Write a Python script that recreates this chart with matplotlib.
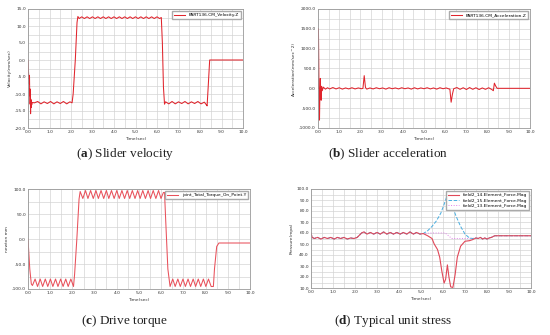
import numpy as np
import matplotlib
matplotlib.use('Agg')
import matplotlib.pyplot as plt
from matplotlib.ticker import MultipleLocator, FormatStrFormatter

# (a) slider velocity
t_vel = [0.0, 0.02, 0.04, 0.05, 0.06, 0.07, 0.08, 0.09, 0.10, 0.11, 0.12, 0.13, 0.14, 0.15, 0.17, 0.2,
         0.3, 0.45, 0.6, 0.75, 0.9, 1.05, 1.2, 1.35, 1.5, 1.65, 1.8, 1.95, 2.05,
         2.1, 2.2, 2.28, 2.32, 2.38,
         2.5, 2.62, 2.75, 2.87, 3.0, 3.12, 3.25, 3.37, 3.5, 3.62, 3.75, 3.87, 4.0, 4.12, 4.25, 4.37,
         4.5, 4.62, 4.75, 4.87, 5.0, 5.12, 5.25, 5.37, 5.5, 5.62, 5.75, 5.87, 6.0, 6.12, 6.2,
         6.25, 6.3, 6.35, 6.4,
         6.55, 6.7, 6.85, 7.0, 7.15, 7.3, 7.45, 7.6, 7.75, 7.9, 8.05, 8.2, 8.3, 8.33,
         8.38, 8.45, 10.0]
v_vel = [0.0, -3.0, -5.5, -4.5, -7.0, -5.0, -10.5, -8.5, -13.0, -10.5, -15.8, -11.5, -14.0, -12.0, -13.2, -12.5,
         -12.6, -12.2, -12.9, -12.3, -12.8, -12.2, -12.9, -12.3, -12.8, -12.2, -12.9, -12.3, -12.6,
         -10.0, 0.0, 11.0, 12.8, 12.2,
         12.7, 12.2, 12.7, 12.2, 12.7, 12.2, 12.7, 12.2, 12.7, 12.2, 12.7, 12.2, 12.7, 12.2, 12.7, 12.2,
         12.7, 12.2, 12.7, 12.2, 12.7, 12.2, 12.7, 12.2, 12.7, 12.2, 12.7, 12.2, 12.7, 12.2, 12.5,
         5.0, -8.0, -13.0, -12.3,
         -12.9, -12.2, -12.9, -12.3, -12.8, -12.2, -12.9, -12.3, -12.8, -12.2, -12.9, -12.4, -13.2, -13.5,
         -8.0, 0.0, 0.0]

# (b) slider acceleration
t_acc = [0.0, 0.01, 0.02, 0.03, 0.05, 0.07, 0.09, 0.11, 0.13, 0.15, 0.17, 0.2, 0.25,
         0.35, 0.45, 0.55, 0.7, 0.85, 1.0, 1.15, 1.3, 1.45, 1.6, 1.75, 1.9, 2.05,
         2.12, 2.18, 2.24, 2.3,
         2.45, 2.6, 2.75, 2.9, 3.05, 3.2, 3.35, 3.5, 3.65, 3.8, 3.95, 4.1, 4.25, 4.4, 4.55,
         4.7, 4.85, 5.0, 5.15, 5.3, 5.45, 5.6, 5.75, 5.9, 6.05, 6.15,
         6.22, 6.28, 6.34, 6.4,
         6.55, 6.7, 6.85, 7.0, 7.15, 7.3, 7.45, 7.6, 7.75, 7.9, 8.05, 8.2,
         8.27, 8.32, 8.38, 8.45, 10.0]
a_acc = [0, 600, 1500, 1000, -200, -800, -100, 250, -150, -300, 50, -60, 30,
         -20, 15, -15, 20, -15, 15, -20, 10, -15, 15, -15, 10, -10,
         0, 320, 20, -20,
         10, -15, 15, -10, 10, -20, 15, -10, 10, -15, 15, -10, 10, -20, 15,
         -15, 10, -10, 15, -15, 10, -20, 15, -10, 10, -10,
         -20, -350, -150, -10,
         20, -25, 15, -30, 20, -25, 15, -30, 10, -25, 15, -30,
         -60, 130, 60, 0, 0]

# (c) drive torque
t_trq = [0.0, 0.08, 0.15, 0.2,
         0.32, 0.43, 0.55, 0.66, 0.78, 0.89, 1.01, 1.12, 1.24, 1.35, 1.47, 1.58, 1.7, 1.81, 1.93, 2.05,
         2.1, 2.2, 2.3, 2.35,
         2.47, 2.59, 2.7, 2.82, 2.94, 3.06, 3.17, 3.29, 3.41, 3.53, 3.64, 3.76, 3.88, 4.0, 4.11, 4.23,
         4.35, 4.47, 4.58, 4.7, 4.82, 4.94, 5.05, 5.17, 5.29, 5.41, 5.52, 5.64, 5.76, 5.88, 5.99, 6.1,
         6.15, 6.2, 6.3, 6.4,
         6.52, 6.63, 6.75, 6.86, 6.98, 7.09, 7.21, 7.32, 7.44, 7.55, 7.67, 7.78, 7.9, 8.01, 8.13, 8.25,
         8.35, 8.4, 8.5, 8.6, 10.0]
m_trq = [0, -60, -90, -93,
         -80, -95, -80, -95, -80, -95, -80, -95, -80, -95, -80, -95, -80, -95, -80, -95,
         -70, 0, 80, 95,
         81, 97, 81, 97, 81, 97, 81, 97, 81, 97, 81, 97, 81, 97, 81, 97,
         81, 97, 81, 97, 81, 97, 81, 97, 81, 97, 81, 97, 81, 97, 81, 93,
         93, 40, -60, -95,
         -80, -95, -80, -95, -80, -95, -80, -95, -80, -95, -80, -95, -80, -95, -80, -95,
         -95, -60, -15, -8, -8]

# (d) typical unit stress
t_common = [0.0, 0.05, 0.15, 0.3, 0.45, 0.6, 0.75, 0.9, 1.05, 1.2, 1.35, 1.5, 1.65, 1.8, 1.95, 2.1,
            2.3, 2.4, 2.55, 2.7, 2.85, 3.0, 3.15, 3.3, 3.45, 3.6, 3.75, 3.9, 4.05, 4.2, 4.35,
            4.5, 4.65, 4.8, 4.95, 5.1]
f_common = [60, 56, 55, 56, 54.5, 56, 55, 56, 54.5, 56, 55, 56, 54.5, 55.5, 55, 56,
            60, 61, 59, 60.5, 59, 60.5, 59, 61, 59, 60.5, 59, 60.5, 59, 60.5, 59,
            61, 59, 60.5, 59, 59.5]
t_tail = [7.5, 7.6, 7.7, 7.8, 7.9, 8.0, 8.1, 8.2, 8.35, 10.0]
f_tail = [55.5, 55, 56, 54.5, 55.5, 54.5, 55.5, 56, 57.5, 57.5]

t_e14 = [5.3, 5.5, 5.6, 5.75, 5.85, 5.95, 6.05, 6.12, 6.2, 6.27, 6.35, 6.45, 6.55, 6.65, 6.8,
         7.0, 7.2, 7.35]
f_e14 = [57.5, 55, 50, 45, 38, 25, 14.5, 18, 31, 20, 11, 10.5, 22, 38, 48,
         52.5, 53, 54]
t_e15 = [5.3, 5.5, 5.7, 5.9, 6.05, 6.2, 6.3, 6.45, 6.6, 6.8, 7.0, 7.2, 7.35]
f_e15 = [62, 66, 71, 78, 86, 95, 92, 83, 75, 66, 59, 55.5, 55]
t_e13 = [5.5, 6.1, 6.4, 7.2, 7.35]
f_e13 = [60, 60, 55, 55, 55]

labels_d = ['field2_14.Element_Force.Mag', 'field2_15.Element_Force.Mag',
            'field2_13.Element_Force.Mag']

W, H = 550, 335
fig = plt.figure(figsize=(W / 100, H / 100), dpi=100)
plt.rcParams['mathtext.fontset'] = 'custom'
plt.rcParams['mathtext.rm'] = 'Liberation Serif'
plt.rcParams['mathtext.bf'] = 'Liberation Serif:bold'

fs = 3.2


def make_ax(left, top, right, bottom):
    ax = fig.add_axes([left / W, 1 - bottom / H, (right - left) / W, (bottom - top) / H])
    ax.set_xlim(0, 10)
    ax.xaxis.set_major_locator(MultipleLocator(1))
    ax.xaxis.set_minor_locator(MultipleLocator(0.5))
    ax.xaxis.set_major_formatter(FormatStrFormatter('%.1f'))
    ax.yaxis.set_major_formatter(FormatStrFormatter('%.1f'))
    ax.grid(True, which='both', color='#d4d4d4', lw=0.5)
    ax.set_axisbelow(True)
    ax.tick_params(which='both', length=0, labelsize=fs, colors='#333333', pad=1.5)
    for s in ax.spines.values():
        s.set_color('#999999')
        s.set_linewidth(0.6)
    ax.set_xlabel('Time(sec)', fontsize=fs, labelpad=2, color='#333333')
    return ax


def caption(x, y, letter, text):
    fig.text(x / W, 1 - y / H, r'($\mathbf{%s}$) %s' % (letter, text), ha='center', va='center',
             fontsize=9.5, family='Liberation Serif', color='#222222')


leg_kw = dict(fontsize=fs, frameon=True, fancybox=False, edgecolor='#aaaaaa', framealpha=1,
              handlelength=2.5, borderpad=0.4, labelspacing=0.3)

# (a)
ax = make_ax(28, 9, 243, 128)
ax.set_ylim(-20, 15)
ax.yaxis.set_major_locator(MultipleLocator(5))
ax.yaxis.set_minor_locator(MultipleLocator(2.5))
ax.plot(t_vel, v_vel, color='#e0242c', lw=0.75, label='PART136.CM_Velocity.Z')
ax.set_ylabel('Velocity(mm/sec)', fontsize=fs, labelpad=2, color='#333333')
ax.legend(loc='upper right', **leg_kw)
caption(125, 154, 'a', 'Slider velocity')

# (b)
ax = make_ax(318, 9, 530, 128)
ax.set_ylim(-1000, 2000)
ax.yaxis.set_major_locator(MultipleLocator(500))
ax.yaxis.set_minor_locator(MultipleLocator(250))
ax.plot(t_acc, a_acc, color='#e0242c', lw=0.75, label='PART136.CM_Acceleration.Z')
ax.set_ylabel('Acceleration(mm/sec^2)', fontsize=fs, labelpad=2, color='#333333')
ax.legend(loc='upper right', **leg_kw)
caption(388, 154, 'b', 'Slider acceleration')

# (c)
ax = make_ax(28, 189, 250, 289)
ax.set_ylim(-100, 100)
ax.yaxis.set_major_locator(MultipleLocator(50))
ax.yaxis.set_minor_locator(MultipleLocator(25))
ax.plot(t_trq, m_trq, color='#e8505a', lw=0.75, label='joint_Total_Torque_On_Point.Y')
ax.set_ylabel('newton mm', fontsize=fs, labelpad=2, color='#333333')
ax.legend(loc='upper right', **leg_kw)
caption(124, 321, 'c', 'Drive torque')

# (d)
ax = make_ax(311, 189, 531, 288)
ax.set_ylim(10, 100)
ax.yaxis.set_major_locator(MultipleLocator(10))
ax.yaxis.set_minor_locator(MultipleLocator(5))
t14 = t_common + t_e14 + t_tail
f14 = f_common + f_e14 + f_tail
t15 = t_common + t_e15 + t_tail
f15 = f_common + f_e15 + f_tail
t13 = t_common + t_e13 + t_tail
f13 = f_common + f_e13 + f_tail
ax.plot(t13, f13, color='#e080e8', lw=0.7, ls=':', label=labels_d[2])
ax.plot(t15, f15, color='#4aaee0', lw=0.7, ls='--', label=labels_d[1])
ax.plot(t14, f14, color='#e04858', lw=0.8, label=labels_d[0])
h, l = ax.get_legend_handles_labels()
ax.legend(h[::-1], l[::-1], loc='upper right', **leg_kw)
ax.set_ylabel('Pressure(mpa)', fontsize=fs, labelpad=2, color='#333333')
caption(393, 321, 'd', 'Typical unit stress')

fig.savefig('out.png', dpi=100, facecolor='white')
